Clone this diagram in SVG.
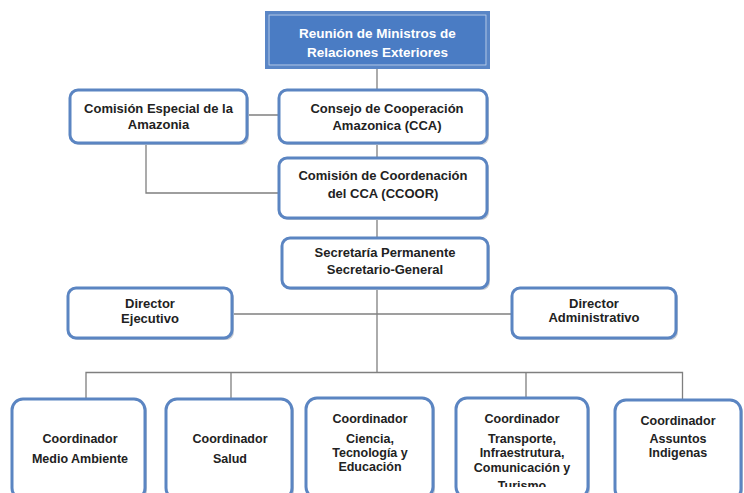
<svg xmlns="http://www.w3.org/2000/svg" width="744" height="493" viewBox="0 0 744 493">
<defs>
<style>
.bx{fill:#ffffff;stroke:#5b85c2;stroke-width:3}
.sh{fill:#c9ccd2}
.t{font-family:"Liberation Sans",Arial,sans-serif;font-weight:bold;font-size:12.5px;fill:#222222;text-anchor:middle}
.tu{font-size:13px}
.tw{font-family:"Liberation Sans",Arial,sans-serif;font-weight:bold;font-size:13.5px;fill:#ffffff;text-anchor:middle}
.c{fill:none;stroke:#7f7f7f;stroke-width:1.3}
</style>
<clipPath id="clipTur"><rect x="456" y="398" width="132" height="89"/></clipPath>
</defs>
<rect width="744" height="493" fill="#ffffff"/>
<g id="connectors">
<path class="c" d="M377 68 V92"/>
<path class="c" d="M247 115 H280"/>
<path class="c" d="M146 143 V193 H280"/>
<path class="c" d="M377 143 V160"/>
<path class="c" d="M377 219 V238"/>
<path class="c" d="M377 289 V373"/>
<path class="c" d="M232 314 H513"/>
<path class="c" d="M86 399 V372.5 H682.5 V400"/>
<path class="c" d="M231 372.5 V399"/>
<path class="c" d="M526 372.5 V399"/>
</g>
<g id="n-reunion">
<rect x="268" y="14" width="222" height="55" fill="#c8ccd4"/>
<rect x="266.5" y="12.5" width="222" height="55" fill="#4a7cc4" stroke="#5a86c6" stroke-width="3"/>
<rect x="269" y="15" width="217" height="50" fill="none" stroke="#b9cbe6" stroke-width="1"/>
<text class="tw" x="377.5" y="38">Reunión de Ministros de</text>
<text class="tw" x="377.5" y="57">Relaciones Exteriores</text>
</g>
<g id="n-comision-especial">
<rect class="sh" x="72" y="92" width="177" height="53" rx="8"/>
<rect class="bx" x="70" y="90" width="177" height="53" rx="8"/>
<text class="t tu" x="158.5" y="113">Comisión Especial de la</text>
<text class="t tu" x="158.5" y="129">Amazonia</text>
</g>
<g id="n-consejo">
<rect class="sh" x="281" y="92" width="208" height="53" rx="8"/>
<rect class="bx" x="279" y="90" width="208" height="53" rx="8"/>
<text class="t tu" x="387" y="113">Consejo de Cooperación</text>
<text class="t tu" x="387" y="130">Amazonica (CCA)</text>
</g>
<g id="n-ccoor">
<rect class="sh" x="281" y="160" width="208" height="60" rx="8"/>
<rect class="bx" x="279" y="158" width="208" height="60" rx="8"/>
<text class="t tu" x="383" y="180">Comisión de Coordenación</text>
<text class="t tu" x="383" y="198">del CCA (CCOOR)</text>
</g>
<g id="n-secretaria">
<rect class="sh" x="284" y="240" width="206" height="50" rx="8"/>
<rect class="bx" x="282" y="238" width="206" height="50" rx="8"/>
<text class="t tu" x="385" y="257">Secretaría Permanente</text>
<text class="t tu" x="385" y="274">Secretario-General</text>
</g>
<g id="n-dir-ejecutivo">
<rect class="sh" x="70" y="290" width="164" height="50" rx="8"/>
<rect class="bx" x="68" y="288" width="164" height="50" rx="8"/>
<text class="t tu" x="150" y="308">Director</text>
<text class="t tu" x="150" y="323">Ejecutivo</text>
</g>
<g id="n-dir-admin">
<rect class="sh" x="514" y="290" width="164" height="50" rx="8"/>
<rect class="bx" x="512" y="288" width="164" height="50" rx="8"/>
<text class="t tu" x="594" y="308">Director</text>
<text class="t tu" x="594" y="322">Administrativo</text>
</g>
<g id="n-medio-ambiente">
<rect class="sh" x="14" y="401" width="133" height="100" rx="11"/>
<rect class="bx" x="12" y="399" width="133" height="100" rx="11"/>
<text class="t" x="80" y="443">Coordinador</text>
<text class="t" x="80" y="463">Medio Ambiente</text>
</g>
<g id="n-salud">
<rect class="sh" x="168" y="401" width="126" height="100" rx="11"/>
<rect class="bx" x="166" y="399" width="126" height="100" rx="11"/>
<text class="t" x="230" y="443">Coordinador</text>
<text class="t" x="230" y="463">Salud</text>
</g>
<g id="n-ciencia">
<rect class="sh" x="308" y="400" width="127" height="100" rx="11"/>
<rect class="bx" x="306" y="398" width="127" height="100" rx="11"/>
<text class="t" x="370" y="423">Coordinador</text>
<text class="t" x="370" y="443">Ciencia,</text>
<text class="t" x="370" y="457">Tecnología y</text>
<text class="t" x="370" y="471">Educación</text>
</g>
<g id="n-transporte">
<rect class="sh" x="458" y="400" width="132" height="100" rx="11"/>
<rect class="bx" x="456" y="398" width="132" height="100" rx="11"/>
<text class="t" x="522" y="423">Coordinador</text>
<text class="t" x="522" y="443">Transporte,</text>
<text class="t" x="522" y="457">Infraestrutura,</text>
<text class="t" x="522" y="472">Comunicación y</text>
<text class="t" x="522" y="490" clip-path="url(#clipTur)">Turismo</text>
</g>
<g id="n-indigenas">
<rect class="sh" x="617" y="402" width="126" height="100" rx="11"/>
<rect class="bx" x="615" y="400" width="126" height="100" rx="11"/>
<text class="t" x="678" y="425">Coordinador</text>
<text class="t" x="678" y="443">Assuntos</text>
<text class="t" x="678" y="457">Indigenas</text>
</g>
</svg>
